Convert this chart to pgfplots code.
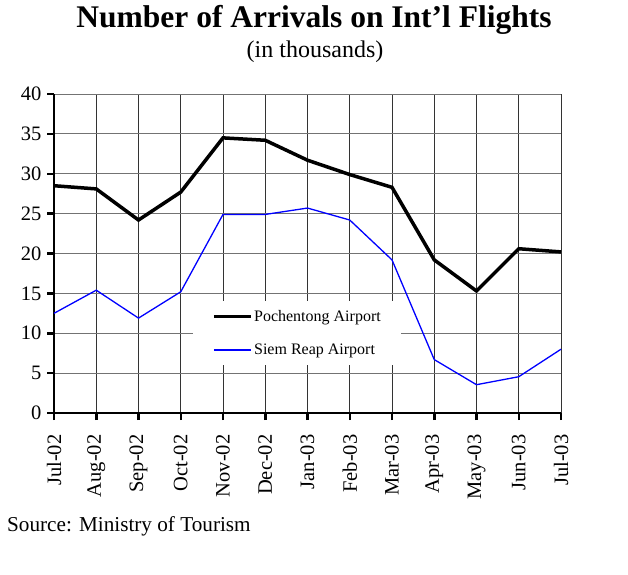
\documentclass[border=0pt]{standalone}
\usepackage{fontspec}
\setmainfont{Liberation Serif}
\usepackage{pgfplots}
\pgfplotsset{compat=1.18}
\definecolor{srblue}{RGB}{0,0,255}
\begin{document}
\begin{tikzpicture}
\useasboundingbox (0pt,0pt) rectangle (628pt,-574pt);
\begin{axis}[
  at={(54pt,-413pt)}, anchor=south west,
  scale only axis, width=507pt, height=319pt,
  xmin=0, xmax=12, ymin=0, ymax=40,
  xtick={0,...,12},
  xticklabels={Jul-02,Aug-02,Sep-02,Oct-02,Nov-02,Dec-02,Jan-03,Feb-03,Mar-03,Apr-03,May-03,Jun-03,Jul-03},
  ytick={0,5,...,40},
  axis x line*=bottom, axis y line*=left,
  axis line style={-, line width=2.5pt, black},
  tick align=outside, major tick length=7pt,
  tick style={line width=2.5pt, black},
  grid=major,
  x grid style={black!80, line width=0.8pt},
  y grid style={black!55, line width=0.8pt},
  /pgf/number format/assume math mode=true,
  tick label style={font=\fontsize{20.5}{24}\selectfont},
  x tick label style={rotate=90, anchor=east},
  xticklabel shift=11pt,
  yticklabel shift=2pt,
  clip=false,
  legend cell align=left,
  legend image code/.code={\draw[#1] (0pt,0pt) -- (37pt,0pt);},
  legend style={at={(0.274,0.351)}, anchor=north west, fill=white, draw=none,
    font=\fontsize{16}{19}\selectfont, inner xsep=19pt, inner ysep=7pt,
    row sep=17pt, nodes={inner xsep=1.5pt}},
]
\addplot[black, line width=3.5pt] coordinates {
(0,28.5) (1,28.1) (2,24.2) (3,27.7) (4,34.5) (5,34.2) (6,31.7) (7,29.9) (8,28.3) (9,19.2) (10,15.3) (11,20.6) (12,20.2)};
\addlegendentry{Pochentong Airport}
\addplot[srblue, line width=1.3pt] coordinates {
(0,12.5) (1,15.4) (2,11.9) (3,15.2) (4,24.9) (5,24.9) (6,25.7) (7,24.2) (8,19.2) (9,6.7) (10,3.55) (11,4.55) (12,8.0)};
\addlegendentry{Siem Reap Airport}
\end{axis}
\node[anchor=base, font=\fontsize{31.5}{36}\selectfont\bfseries] at (314pt,-27pt) {Number of Arrivals on Int’l Flights};
\node[anchor=base, font=\fontsize{24}{28}\selectfont] at (315pt,-57pt) {(in thousands)};
\node[anchor=base west, inner sep=0pt, font=\fontsize{21.2}{25}\selectfont] at (7pt,-531pt) {Source: Ministry of Tourism};
\end{tikzpicture}
\end{document}
